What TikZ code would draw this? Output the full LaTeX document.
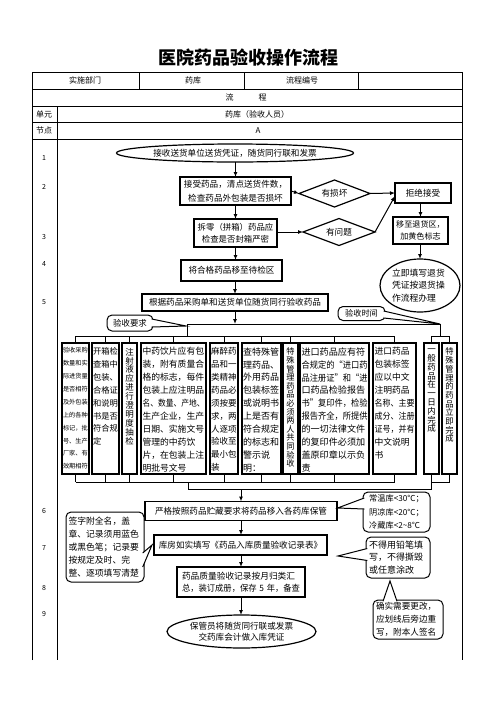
\documentclass[tikz,border=0pt]{standalone}
\usepackage{fontspec}
\setmainfont{Noto Sans CJK SC}
\usepackage{graphicx}
\usetikzlibrary{shapes.geometric,arrows.meta,calc}
\XeTeXinterchartokenstate=1
\XeTeXinterchartoks 1 1 = {\hskip 0pt plus 1pt\relax}
\XeTeXinterchartoks 3 1 = {\hskip 0pt plus 1pt\relax}
\XeTeXinterchartoks 1 2 = {\hskip 0pt plus 1pt\relax}
\XeTeXinterchartoks 3 2 = {\hskip 0pt plus 1pt\relax}
\newsavebox\jlbox
\newcommand\jl[1]{\sbox\jlbox{#1}\ifdim\wd\jlbox>\linewidth\resizebox{\linewidth}{\ht\jlbox}{#1}\else\makebox[\linewidth][s]{#1}\fi}
\newcommand\fsz[2]{\fontsize{#1}{#2}\selectfont}
\begin{document}
\begin{tikzpicture}[x=1pt,y=-1pt,
  every node/.style={inner sep=0pt, outer sep=0pt},
  tbl/.style={line width=1pt},
  ttext/.style={font=\fsz{8}{10}},
  num/.style={font=\fsz{7}{8}},
  box/.style={draw, line width=1.2pt, fill=white, align=center, font=\fsz{8.6}{14.5}},
  ellip/.style={box, ellipse},
  dia/.style={box, diamond, aspect=2.6},
  callout/.style={draw, line width=1pt, fill=white, rounded corners=5pt, align=left},
  tail/.style={line width=1pt, fill=white, line join=miter},
  kbox/.style={draw, line width=1.2pt, minimum height=131},
  ktext/.style={anchor=north, align=left},
  vtext/.style={anchor=north, align=center},
  arr/.style={line width=1pt, -{Latex[length=5pt,width=4pt]}},
  brk/.style={line width=0.9pt}]
\useasboundingbox (0,0) rectangle (496,702);

% title
\node[font=\fsz{18}{20}\bfseries] (title) at (248,58) {医院药品验收操作流程};

% table frame
\draw[tbl] (32,660) -- (32,72) -- (462,72) -- (462,660);
\draw[tbl] (32,89) -- (462,89);
\draw[tbl] (32,106) -- (462,106);
\draw[tbl] (32,122) -- (462,122);
\draw[tbl] (32,139) -- (462,139);
\draw[tbl] (139,72) -- (139,89);
\draw[tbl] (244,72) -- (244,89);
\draw[tbl] (358,72) -- (358,89);
\draw[tbl] (57,106) -- (57,660);

\node[ttext] (h1) at (85,80.5) {实施部门};
\node[ttext] (h2) at (193,80.5) {药库};
\node[ttext] (h3) at (302,80.5) {流程编号};
\node[ttext] (h4) at (246,97.5) {流\hspace{25pt}程};
\node[ttext] (h5) at (44,114) {单元};
\node[ttext] (h6) at (257,114) {药库（验收人员）};
\node[ttext] (h7) at (44,130.5) {节点};
\node[ttext] (h8) at (258,131) {A};

% row numbers
\node[num] (n1) at (44,158) {1};
\node[num] (n2) at (44,187) {2};
\node[num] (n3) at (44,237) {3};
\node[num] (n4) at (44,264) {4};
\node[num] (n5) at (44,302) {5};
\node[num] (n6) at (44,511) {6};
\node[num] (n7) at (44,548) {7};
\node[num] (n8) at (44,588) {8};
\node[num] (n9) at (44,614) {9};

% upper flow
\node[ellip, minimum width=237, minimum height=18] (e1) at (235,153) {接收送货单位送货凭证，随货同行联和发票};
\node[box, minimum width=111, minimum height=28] (b2) at (235.5,191) {接受药品，清点送货件数，\\检查药品外包装是否损坏};
\node[dia, minimum width=71, minimum height=27] (d1) at (334.5,193.5) {有损坏};
\node[box, minimum width=56, minimum height=20] (r1) at (423,193) {拒绝接受};
\node[box, minimum width=83, minimum height=28, font=\fsz{8.4}{12.5}] (b3) at (235.5,233) {拆零（拼箱）药品应\\检查是否封箱严密};
\node[dia, minimum width=72, minimum height=27] (d2) at (339,232) {有问题};
\node[box, minimum width=55, minimum height=27, font=\fsz{8.1}{12.5}] (r2) at (420.5,230.5) {移至退货区，\\加黄色标志};
\node[ellip, minimum width=80, minimum height=53, text width=56, align=left, font=\fsz{8.8}{12.5}] (e2) at (420,285.5) {\jl{立即填写退货}\\\jl{凭证按退货操}\\作流程办理};
\node[box, minimum width=101, minimum height=21] (b4) at (231.5,270.5) {将合格药品移至待检区};
\node[box, minimum width=186, minimum height=17] (b5) at (235,302.5) {根据药品采购单和送货单位随货同行验收药品};

\draw[arr] (e1.south -| b2.north) -- (b2.north);
\draw[arr] (b2.south) -- (b3.north);
\draw[arr] (b3.south) -- (b3.south |- b4.north);
\draw[arr] (b4.south -| b5.north) -- (b5.north);
\draw[arr] (b2.east) -- (d1.west);
\draw[arr] (d1.east) -- (r1.west);
\draw[arr] (b3.east |- d2.west) -- (d2.west);
\draw[arr] (d2.east) -- ($(r1.west)+(0,3)$);
\draw[arr] (r1.south -| r2.north) -- (r2.north);
\draw[arr] (r2.south -| e2.north) -- (e2.north);

% callouts above columns
\node[callout, minimum width=46, minimum height=16, font=\fsz{8.4}{10}] (c1) at (130,323) {验收要求};
\node[callout, minimum width=47, minimum height=14, font=\fsz{8.2}{10}] (c2) at (361.5,313.5) {验收时间};

% junction lines
\coordinate (yT) at (0,336);
\coordinate (yB) at (0,482);
\coordinate (j1) at (187,324);
\coordinate (j2) at (440,324);
\coordinate (t1) at (186,326);
\draw[tail] ($(c1.east)+(-1.3,-4)$) -- (t1) -- ($(c1.east)+(-1.3,4)$);
\draw[tail] ($(c2.east)+(-1.3,-2.5)$) -- (j2) -- ($(c2.east)+(-1.3,4.5)$);

% columns
\node[kbox, minimum width=27] (k1) at (75.5,408.5) {};
\node[kbox, minimum width=27] (k2) at (105.5,408.5) {};
\node[kbox, minimum width=15] (k3) at (129.5,408.5) {};
\node[kbox, minimum width=65] (k4) at (173.5,408.5) {};
\node[kbox, minimum width=28] (k5) at (224,408.5) {};
\node[kbox, minimum width=39] (k6) at (261.5,408.5) {};
\node[kbox, minimum width=15] (k7) at (290.5,408.5) {};
\node[kbox, minimum width=69] (k8) at (334.5,408.5) {};
\node[kbox, minimum width=43] (k9) at (394.5,408.5) {};
\node[kbox, minimum width=15] (k10) at (431.5,408.5) {};
\node[kbox, minimum width=15] (k11) at (449.5,408.5) {};

\node[ktext, text width=25, font=\fsz{6.2}{12.9}] (k1t) at ($(k1.north)+(0,4.5)$) {\jl{验收采购}\\\jl{数量和实}\\\jl{际进货量}\\\jl{是否相符}\\\jl{及外包装}\\\jl{上的各种}\\\jl{标记，批}\\\jl{号、生产}\\\jl{厂家、有}\\\jl{效期相符}};
\node[ktext, text width=25, font=\fsz{8.3}{12.9}] (k2t) at ($(k2.north)+(0,4.5)$) {\jl{开箱检}\\\jl{查箱中}\\\jl{包装、}\\\jl{合格证}\\\jl{和说明}\\\jl{书是否}\\\jl{符合规}\\定};
\node[vtext, font=\fsz{8.5}{8.9}] (k3t) at ($(k3.north)+(0,5)$) {注\\射\\液\\应\\进\\行\\澄\\明\\度\\抽\\检};
\node[ktext, text width=62, font=\fsz{8.8}{12.9}] (k4t) at ($(k4.north)+(0,4.5)$) {\jl{中药饮片应有包}\\\jl{装，附有质量合}\\\jl{格的标志，每件}\\\jl{包装上应注明品}\\\jl{名、数量、产地、}\\\jl{生产企业，生产}\\\jl{日期、实施文号}\\\jl{管理的中药饮}\\\jl{片，在包装上注}\\明批号文号};
\node[ktext, text width=26, font=\fsz{8.5}{12.9}] (k5t) at ($(k5.north)+(0,4.5)$) {\jl{麻醉药}\\\jl{品和一}\\\jl{类精神}\\\jl{药品必}\\\jl{须按要}\\\jl{求，两}\\\jl{人逐项}\\\jl{验收至}\\\jl{最小包}\\装};
\node[ktext, text width=37, font=\fsz{9}{12.9}] (k6t) at ($(k6.north)+(0,4.5)$) {\jl{查特殊管}\\\jl{理药品、}\\\jl{外用药品}\\\jl{包装标签}\\\jl{或说明书}\\\jl{上是否有}\\\jl{符合规定}\\\jl{的标志和}\\\jl{警示说}\\明：};
\node[vtext, font=\fsz{8.2}{8.6}] (k7t) at ($(k7.north)+(0,5)$) {特\\殊\\管\\理\\药\\品\\必\\须\\两\\人\\共\\同\\验\\收};
\node[ktext, text width=66, font=\fsz{9.1}{12.9}] (k8t) at ($(k8.north)+(0,4.5)$) {\jl{进口药品应有符}\\\jl{合规定的“进口药}\\\jl{品注册证”和“进}\\\jl{口药品检验报告}\\\jl{书”复印件，检验}\\\jl{报告齐全，所提供}\\\jl{的一切法律文件}\\\jl{的复印件必须加}\\\jl{盖原印章以示负}\\责};
\node[ktext, text width=40, font=\fsz{8.8}{12.9}] (k9t) at ($(k9.north)+(0,4.5)$) {\jl{进口药品}\\\jl{包装标签}\\\jl{应以中文}\\\jl{注明药品}\\\jl{名称、主要}\\\jl{成分、注册}\\\jl{证号，并有}\\\jl{中文说明}\\书};
\node[vtext, font=\fsz{8.5}{8.8}] (k10t) at ($(k10.north)+(0,6)$) {一\\般\\药\\品\\在\\一\\日\\内\\完\\成};
\node[vtext, font=\fsz{8.3}{8.7}] (k11t) at ($(k11.north)+(0,5)$) {特\\殊\\管\\理\\的\\药\\品\\立\\即\\完\\成};

% top brackets
\draw[arr] (b5.south) -- (b5.south |- j1);
\draw[brk] (j1) -- (j2);
\draw[brk] (j1) -- (j1 |- yT);
\draw[brk] (j2) -- (j2 |- yT);
\draw[brk] (k1.north |- yT) -- (k9.north |- yT);
\draw[brk] (k10.north |- yT) -- (k11.north |- yT);
\foreach \k in {k1,k2,k3,k4,k5,k6,k7,k8,k9,k10,k11}{
  \draw[brk] (\k.north) -- (\k.north |- yT);
  \draw[brk] (\k.south) -- (\k.south |- yB);
}

% lower flow
\node[box, minimum width=192, minimum height=19] (b6) at (241,511) {严格按照药品贮藏要求将药品移入各药库保管};
\node[box, minimum width=173, minimum height=20] (b7) at (240.5,545) {库房如实填写《药品入库质量验收记录表》};
\node[box, minimum width=128, minimum height=30, text width=118, align=left, font=\fsz{8.7}{12.3}] (b8) at (241,582) {\jl{药品质量验收记录按月归类汇}\\\jl{总，装订成册，保存 5 年，备查}};
\node[ellip, minimum width=149, minimum height=33, font=\fsz{8.6}{11.5}] (e3) at (241.5,631.5) {保管员将随货同行联或发票\\交药库会计做入库凭证};

% bottom brackets
\coordinate (j3) at (188,489);
\draw[brk] (k1.south |- yB) -- (k9.south |- yB);
\draw[brk] (k10.south |- yB) -- (k11.south |- yB);
\draw[brk] (j3 |- yB) -- (j3) -- (j3 -| k10.south) -- (k10.south |- yB);
\draw[arr] (b6.north |- j3) -- (b6.north);
\draw[arr] (b6.south) -- (b6.south |- b7.north);
\draw[arr] (b7.south -| b8.north) -- (b8.north);
\draw[arr] (b8.south) -- (b8.south |- e3.north);

% lower callouts
\node[callout, minimum width=67, minimum height=40, font=\fsz{8.2}{13.5}] (c3) at (396.5,512) {常温库<30℃；\\阴凉库<20℃；\\冷藏库<2\textasciitilde8℃};
\node[callout, minimum width=78, minimum height=70, text width=73, font=\fsz{8.8}{13}] (c4) at (105,547) {\jl{签字附全名，盖}\\\jl{章、记录须用蓝色}\\\jl{或黑色笔；记录要}\\\jl{按规定及时、完}\\\jl{整、逐项填写清楚}};
\node[callout, minimum width=64, minimum height=41, text width=58, font=\fsz{9}{12.5}] (c5) at (398,557.5) {\jl{不得用铅笔填}\\\jl{写，不得撕毁}\\或任意涂改};
\node[callout, minimum width=70, minimum height=39, text width=64, font=\fsz{8.6}{13}] (c6) at (408,619.5) {\jl{确实需要更改，}\\\jl{应划线后旁边重}\\\jl{写，附本人签名}};

\coordinate (t3) at ($(b6.east)+(0.6,-3)$);
\coordinate (t4) at ($(b7.west)+(-2,0)$);
\coordinate (t5) at (338,556);
\coordinate (t6) at (390,581);
\draw[tail] ($(c3.west)+(1.3,-14)$) -- (t3) -- ($(c3.west)+(1.3,-3)$);
\draw[tail] ($(c4.east)+(-1.3,6)$) -- (t4) -- ($(c4.east)+(-1.3,20)$);
\draw[tail] ($(c5.west)+(1.3,-9)$) -- (t5) -- ($(c5.west)+(1.3,3)$);
\draw[tail] ($(c6.north)+(-25,1.3)$) -- (t6) -- ($(c6.north)+(-11,1.3)$);
\end{tikzpicture}
\end{document}
